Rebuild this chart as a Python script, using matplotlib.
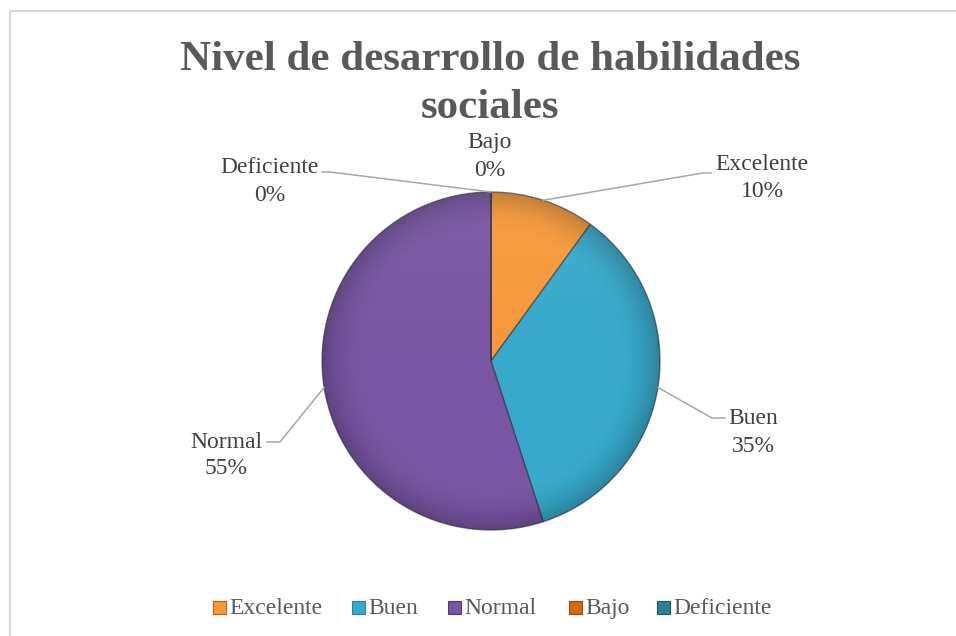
import numpy as np
import matplotlib
matplotlib.use("Agg")
import matplotlib.pyplot as plt
from matplotlib.patches import Circle, Rectangle
from matplotlib.lines import Line2D

categories = ["Excelente", "Buen", "Normal", "Bajo", "Deficiente"]
values = [10, 35, 55, 0, 0]
pct_labels = ["10%", "35%", "55%", "0%", "0%"]
title_lines = ["Nivel de desarrollo de habilidades", "sociales"]

colors = ["#F6993A", "#37A9CA", "#7955A3", "#D6660F", "#2B7F96"]
edge_colors = ["#B86A1E", "#23839E", "#55397A", "#9A4A0A", "#1B5A6B"]

W, H = 956, 636
fig = plt.figure(figsize=(W / 100, H / 100), dpi=100)
fig.patch.set_facecolor("white")

serif = ["Liberation Serif", "DejaVu Serif"]
txt_color = "#404040"

# chart border
fig.add_artist(Line2D([10 / W, 10 / W], [0, 1 - 11 / H], transform=fig.transFigure, color="#D9D9D9", lw=1.5))
fig.add_artist(Line2D([10 / W, 1], [1 - 11 / H, 1 - 11 / H], transform=fig.transFigure, color="#D9D9D9", lw=1.5))

cx, cy, r = 491, 361, 169
ax = fig.add_axes([(cx - r) / W, (H - cy - r) / H, 2 * r / W, 2 * r / H])
ax.set_xlim(-1, 1)
ax.set_ylim(-1, 1)
ax.axis("off")

wedges, _ = ax.pie(values, colors=colors, startangle=90, counterclock=False, radius=1,
                   wedgeprops=dict(linewidth=1.0, edgecolor="#3A3A3A"))
for w in wedges:
    w.set_edgecolor((0.2, 0.2, 0.25, 0.6))

# subtle radial shading
n = 400
yy, xx = np.mgrid[1:-1:complex(0, n), -1:1:complex(0, n)]
rr = np.sqrt(xx ** 2 + yy ** 2)
shade = np.zeros((n, n, 4))
shade[..., 3] = np.clip((rr - 0.75) / 0.25, 0, 1) ** 2 * 0.22
ax.imshow(shade, extent=(-1, 1, -1, 1), zorder=3, interpolation="bilinear")
top = np.zeros((n, n, 4))
top[..., :3] = 1.0
top[..., 3] = np.clip(yy, 0, 1) * 0.06
ax.imshow(top, extent=(-1, 1, -1, 1), zorder=3, interpolation="bilinear")
clip = Circle((0, 0), 1, transform=ax.transData)
for a in ax.images:
    a.set_clip_path(clip)
ax.set_xlim(-1, 1)
ax.set_ylim(-1, 1)

# label placement: (center x, first line y, second line y) in pixels
label_pos = {
    "Excelente": (762, 165, 192),
    "Buen": (753, 418, 446),
    "Normal": (226, 442, 469),
    "Bajo": (490, 142, 170),
    "Deficiente": (270, 168, 196),
}
elbows = {
    "Excelente": [(703, 173), (711, 173)],
    "Buen": [(712, 418), (725, 418)],
    "Normal": [(280, 442), (267, 442)],
    "Deficiente": [(330, 172), (322, 172)],
}

total = sum(values)
start = 90.0
for cat, v, p in zip(categories, values, pct_labels):
    mid = start - v / total * 360 / 2
    start -= v / total * 360
    px, py1, py2 = label_pos[cat]
    fig.text(px / W, 1 - py1 / H, cat, ha="center", va="center",
             fontsize=17, family=serif, color=txt_color)
    fig.text(px / W, 1 - py2 / H, p, ha="center", va="center",
             fontsize=17, family=serif, color=txt_color)
    if cat in elbows:
        ang = np.deg2rad(mid)
        ex, ey = cx + r * np.cos(ang), cy - r * np.sin(ang)
        pts = [(ex, ey)] + elbows[cat]
        xs = [q[0] / W for q in pts]
        ys = [1 - q[1] / H for q in pts]
        fig.add_artist(Line2D(xs, ys, transform=fig.transFigure, color="#A6A6A6", lw=1.1))

# title
fig.text(490 / W, 1 - 60 / H, title_lines[0], ha="center", va="center", fontsize=31,
         fontweight="bold", family=serif, color="#595959")
fig.text(490 / W, 1 - 108 / H, title_lines[1], ha="center", va="center", fontsize=31,
         fontweight="bold", family=serif, color="#595959")

# legend (manual, so every entry shares one baseline)
legend_x = [213, 352, 448, 569, 657]
leg_y = 607
box = 13
for lx, cat, c, ec in zip(legend_x, categories, colors, edge_colors):
    fig.add_artist(Rectangle((lx / W, 1 - (leg_y + box / 2) / H), box / W, box / H,
                             transform=fig.transFigure, facecolor=c, edgecolor=ec, lw=0.8))
    fig.text((lx + box + 3) / W, 1 - (leg_y + 7) / H, cat, ha="left", va="baseline",
             fontsize=17, family=serif, color="#595959")

fig.savefig("out.png", dpi=100, facecolor="white")
